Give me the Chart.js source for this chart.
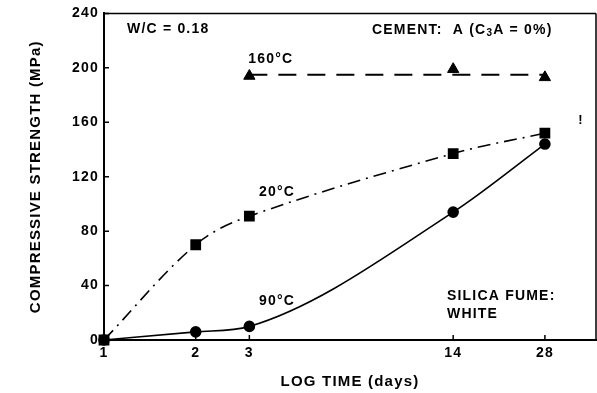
<!DOCTYPE html>
<html><head><meta charset="utf-8">
<script src="https://cdn.jsdelivr.net/npm/chart.js@4/dist/chart.umd.min.js"></script>
<style>html,body{margin:0;padding:0;background:#fff;}canvas{display:block;}</style>
</head><body>
<canvas id="c" width="597" height="393" style="width:597px;height:393px"></canvas>
<script>
// ---- data ----
const days = [1, 2, 3, 14, 28];
const xTickLabels = ['1', '2', '3', '14', '28'];
const yTicks = [0, 40, 80, 120, 160, 200, 240];
const days160 = [3, 14, 28];
const strength160 = [194, 199, 193];
const fitDays160 = [3, 28];
const fit160 = [195, 195];
const strength20 = [0, 70, 91, 137, 152];
const strength90 = [0, 6, 10, 94, 144];

const FONT = '"Liberation Sans", Arial, Helvetica, sans-serif';

const pts = (xs, ys) => xs.map((x, i) => ({x, y: ys[i]}));

const annotations = [
  {text: 'W/C = 0.18', x: 1.19, y: 228.5, align: 'left', size: 14},
  {text: '160°C', x: 3.53, y: 206.5, align: 'center', size: 14},
  {text: '20°C', x: 3.70, y: 109, align: 'center', size: 14},
  {text: '90°C', x: 3.70, y: 28.6, align: 'center', size: 14},
  {text: 'SILICA FUME:', x: 13.36, y: 32.2, align: 'left', size: 14},
  {text: 'WHITE', x: 13.36, y: 19, align: 'left', size: 14},
  {text: '!', x: 36.8, y: 161, align: 'center', size: 13}
];

const framePlugin = {
  id: 'frame',
  beforeDraw(chart) {
    chart.ctx.letterSpacing = '1.2px';
  },
  afterDraw(chart) {
    const ctx = chart.ctx, a = chart.chartArea, xs = chart.scales.x, ys = chart.scales.y;
    ctx.save();
    ctx.strokeStyle = '#000';
    ctx.lineWidth = 1.5;
    ctx.beginPath();
    ctx.moveTo(a.left, a.top); ctx.lineTo(a.right, a.top);
    ctx.moveTo(a.right, a.top); ctx.lineTo(a.right, a.bottom);
    ctx.stroke();
    // inward tick marks
    ctx.beginPath();
    yTicks.forEach(v => { const py = ys.getPixelForValue(v); ctx.moveTo(a.left, py); ctx.lineTo(a.left + 5, py); });
    days.forEach(v => { const px = xs.getPixelForValue(v); ctx.moveTo(px, a.bottom); ctx.lineTo(px, a.bottom - 5); });
    ctx.stroke();
    // annotations
    ctx.fillStyle = '#000';
    ctx.textBaseline = 'middle';
    ctx.letterSpacing = '1.2px';
    annotations.forEach(t => {
      ctx.font = 'bold ' + t.size + 'px ' + FONT;
      ctx.textAlign = t.align;
      ctx.fillText(t.text, xs.getPixelForValue(t.x), ys.getPixelForValue(t.y));
    });
    // CEMENT label with subscript
    let cx = xs.getPixelForValue(7.58), cy = ys.getPixelForValue(228);
    ctx.textAlign = 'left';
    ctx.font = 'bold 14px ' + FONT;
    const p1 = 'CEMENT:  A (C';
    ctx.fillText(p1, cx, cy); cx += ctx.measureText(p1).width;
    ctx.font = 'bold 10px ' + FONT;
    ctx.fillText('3', cx, cy + 4); cx += ctx.measureText('3').width;
    ctx.font = 'bold 14px ' + FONT;
    ctx.fillText('A = 0%)', cx, cy);
    ctx.restore();
  }
};

new Chart(document.getElementById('c'), {
  type: 'line',
  data: {
    datasets: [
      {label: '160 fit', data: pts(fitDays160, fit160), borderColor: '#000', borderWidth: 2, borderDash: [18, 11], pointRadius: 0, fill: false},
      {label: '160°C', data: pts(days160, strength160), showLine: false, pointStyle: 'triangle', pointRadius: 6.5, backgroundColor: '#000', borderColor: '#000'},
      {label: '20°C', data: pts(days, strength20), borderColor: '#000', borderWidth: 1.6, borderDash: [13, 6, 2, 6], tension: 0.35, pointStyle: 'rect', pointRadius: 6.5, backgroundColor: '#000', fill: false},
      {label: '90°C', data: pts(days, strength90), borderColor: '#000', borderWidth: 1.6, cubicInterpolationMode: 'monotone', pointStyle: 'circle', pointRadius: 5, backgroundColor: '#000', fill: false}
    ]
  },
  options: {
    responsive: false,
    animation: false,
    clip: false,
    layout: {autoPadding: false, padding: {top: 12, right: 1, bottom: 0, left: 0}},
    plugins: {legend: {display: false}, tooltip: {enabled: false}},
    scales: {
      x: {
        type: 'logarithmic', min: 1, max: 41.2,
        afterBuildTicks: s => { s.ticks = days.map(v => ({value: v})); },
        afterFit: s => { s.height = 53; s.paddingLeft = 0; s.paddingRight = 0; },
        ticks: {callback: (v, i) => xTickLabels[i], color: '#000', font: {family: FONT, size: 14, weight: 'bold'}, padding: 5, maxRotation: 0, autoSkip: false},
        grid: {drawOnChartArea: false, drawTicks: false},
        border: {width: 2, color: '#000'},
        title: {display: true, text: 'LOG TIME (days)', color: '#000', font: {family: FONT, size: 15, weight: 'bold'}, padding: {top: 0, bottom: 2}}
      },
      y: {
        min: 0, max: 240,
        afterBuildTicks: s => { s.ticks = yTicks.map(v => ({value: v})); },
        afterFit: s => { s.width = 104; },
        ticks: {color: '#000', font: {family: FONT, size: 14, weight: 'bold'}, padding: 5},
        grid: {drawOnChartArea: false, drawTicks: false},
        border: {width: 2, color: '#000'},
        title: {display: true, text: 'COMPRESSIVE STRENGTH (MPa)', color: '#000', font: {family: FONT, size: 15, weight: 'bold'}, padding: {top: 27, bottom: 0}}
      }
    }
  },
  plugins: [framePlugin]
});
</script>
</body></html>
